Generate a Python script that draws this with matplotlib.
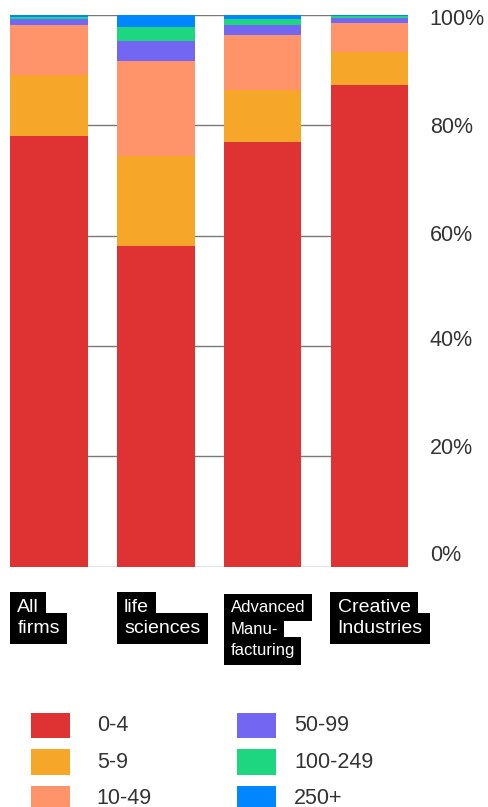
import matplotlib.pyplot as plt
import matplotlib.transforms as mtransforms
from matplotlib.patches import Rectangle
import numpy as np

plt.rcParams['font.family'] = ['Liberation Sans', 'DejaVu Sans']

# Дані: частка фірм (%) за розміром, для кожного сектору
categories = [["All", "firms"], ["life", "sciences"],
              ["Advanced", "Manu-", "facturing"], ["Creative", "Industries"]]
size_bands = ["0-4", "5-9", "10-49", "50-99", "100-249", "250+"]
share_0_4 = [78.0, 58.2, 76.9, 87.3]
share_5_9 = [11.2, 16.2, 9.5, 6.0]
share_10_49 = [8.9, 17.2, 9.9, 5.3]
share_50_99 = [1.1, 3.7, 1.8, 0.8]
share_100_249 = [0.5, 2.5, 1.1, 0.4]
share_250 = [0.3, 2.2, 0.8, 0.2]
colors = ["#DF3333", "#F6A72A", "#FF946B", "#7266F2", "#1FD680", "#0086FF"]
y_ticks = [0, 20, 40, 60, 80, 100]
y_labels = ["0%", "20%", "40%", "60%", "80%", "100%"]

series = [share_0_4, share_5_9, share_10_49, share_50_99, share_100_249, share_250]

W, H = 488, 807
fig = plt.figure(figsize=(W / 100, H / 100), dpi=100)
ax = fig.add_axes([10.3 / W, (H - 566.7) / H, (408 - 10.3) / W, (566.7 - 15) / H])

x = np.arange(len(categories))
width = 0.726
bottom = np.zeros(len(categories))
for vals, col in zip(series, colors):
    ax.bar(x, vals, width=width, bottom=bottom, color=col, zorder=2)
    bottom += np.array(vals)

ax.set_xlim(-width / 2, len(categories) - 1 + width / 2)
ax.set_ylim(0, 100)
for t in y_ticks:
    ax.axhline(t, color="#777777", lw=1, zorder=1)
for s in ax.spines.values():
    s.set_visible(False)
ax.set_xticks([])
ax.set_yticks([])

# підписи осі справа (трохи зсунуті, як в оригіналі)
label_pos = [2.1, 21.5, 41.0, 60.1, 79.6, 99.2]
for yp, lab in zip(label_pos, y_labels):
    ax.text(1.055, yp / 100, lab, transform=ax.transAxes, ha="left", va="center",
            fontsize=15.5, color="#333333")

# підписи категорій у чорних рамках
trans = mtransforms.blended_transform_factory(ax.transData, fig.transFigure)
trans = trans + mtransforms.ScaledTranslation(7 / 100, 0, fig.dpi_scale_trans)
for i, lines in enumerate(categories):
    small = len(lines) > 2
    fs = 12 if small else 14
    step = 21.7 if small else 21
    y0 = 607.5
    for j, line in enumerate(lines):
        ax.text(i - width / 2, (H - (y0 + j * step)) / H,
                line, transform=trans, ha="left", va="center", fontsize=fs, color="white",
                bbox=dict(facecolor="black", edgecolor="none", boxstyle="square,pad=0.38"))

# легенда вручну
col_x = [31, 236.7]
txt_x = [96.7, 294]
row_y = [712.7, 749.4, 786]
for k, (lab, col) in enumerate(zip(size_bands, colors)):
    cx = col_x[k // 3]
    ry = row_y[k % 3]
    fig.add_artist(Rectangle((cx / W, (H - ry - 25.3) / H), 39 / W, 25.3 / H,
                             transform=fig.transFigure, facecolor=col, edgecolor="none"))
    fig.text(txt_x[k // 3] / W, (H - ry - 12.7) / H, lab, ha="left", va="center",
             fontsize=15.5, color="#333333")

fig.savefig("out.png", dpi=100)
